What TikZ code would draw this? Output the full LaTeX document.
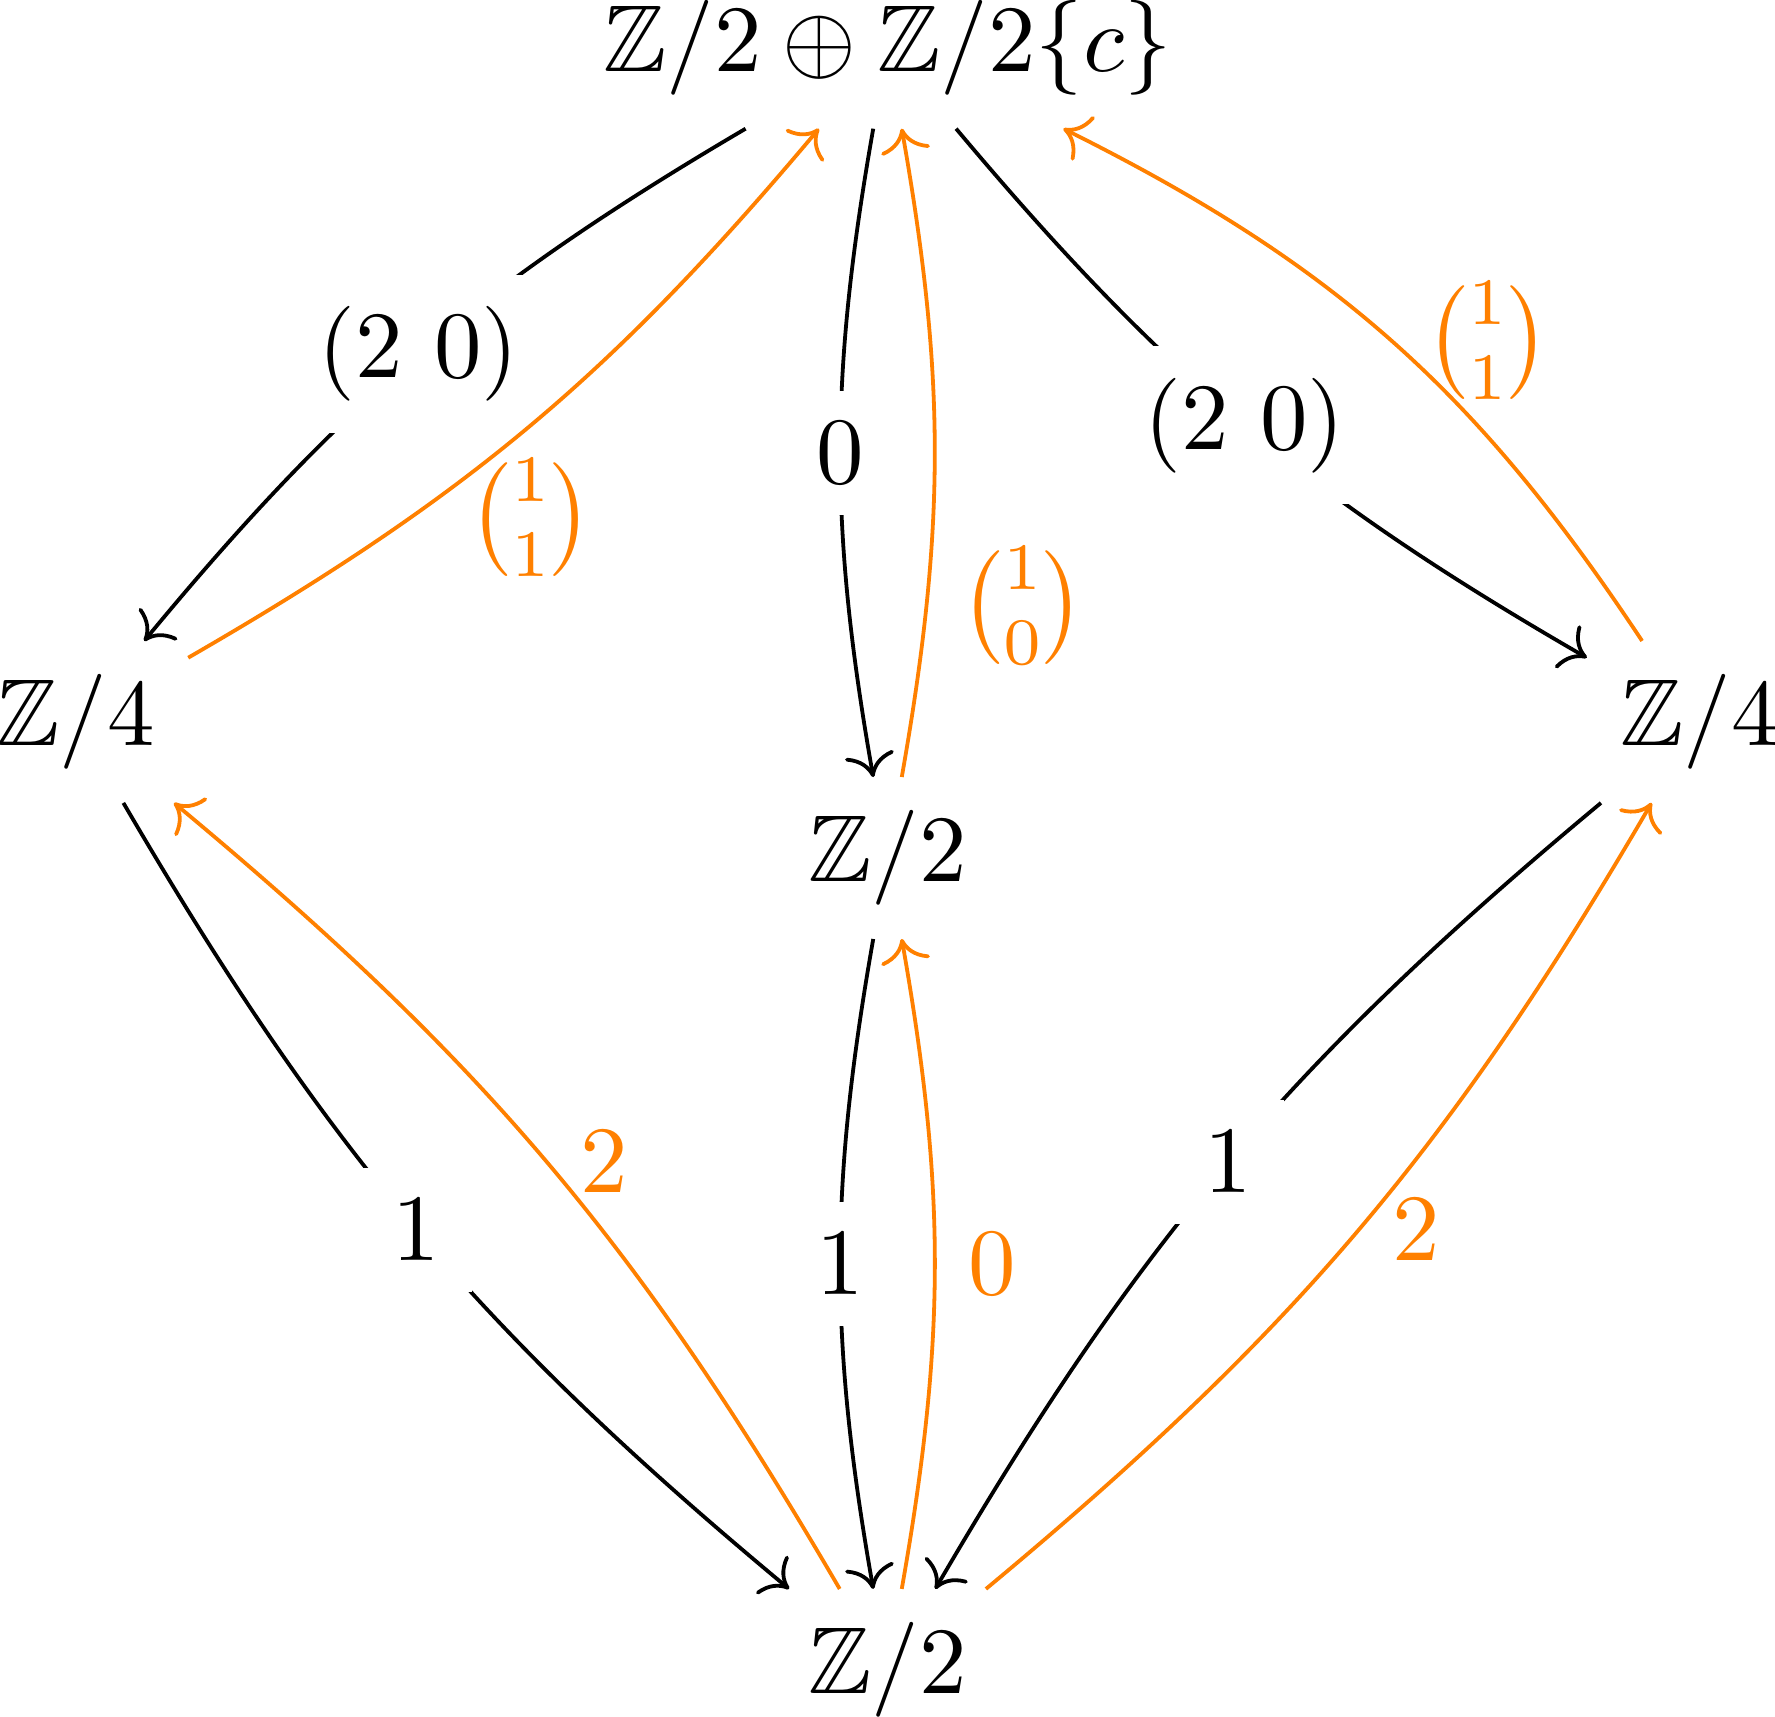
\documentclass[tikz,border=0pt]{standalone}
\usepackage{amsmath}
\usepackage{amssymb}
\usetikzlibrary{arrows.meta}
\tikzset{>={Computer Modern Rightarrow}}

\begin{document}
\begin{tikzpicture}[res/.style={->, bend right=10}, tr/.style={->, orange, bend right=10}, lab/.style={fill=white}]

	\useasboundingbox (0,0) rectangle (6.574,6.359);

	\node (top) at (3.287,6.182) {$\mathbb{Z}/2 \oplus \mathbb{Z}/2\{c\}$};
	\node (lft) at (0.280,3.685) {$\mathbb{Z}/4$};
	\node (rgt) at (6.294,3.685) {$\mathbb{Z}/4$};
	\node (mid) at (3.287,3.181) {$\mathbb{Z}/2$};
	\node (bot) at (3.287,0.174) {$\mathbb{Z}/2$};

	%restrictions
	\draw [res] (top) to node[lab] {$(2\ 0)$} (lft);
	\draw [res] (top) to node[lab] {$0$} (mid);
	\draw [res] (top) to node[lab] {$(2\ 0)$} (rgt);
	\draw [res] (lft) to node[lab] {$1$} (bot);
	\draw [res] (mid) to node[lab] {$1$} (bot);
	\draw [res] (rgt) to node[lab] {$1$} (bot);

	%transfers
	\draw [tr] (lft) to node[below] {$\binom{1}{1}$} (top);
	\draw [tr] (mid) to node[near start, right] {$\binom{1}{0}$} (top);
	\draw [tr, bend right=15] (rgt) to node[right] {$\binom{1}{1}$} (top);
	\draw [tr] (bot) to node[right] {$2$} (lft);
	\draw [tr] (bot) to node[right] {$0$} (mid);
	\draw [tr] (bot) to node[right] {$2$} (rgt);

\end{tikzpicture}
\end{document}
